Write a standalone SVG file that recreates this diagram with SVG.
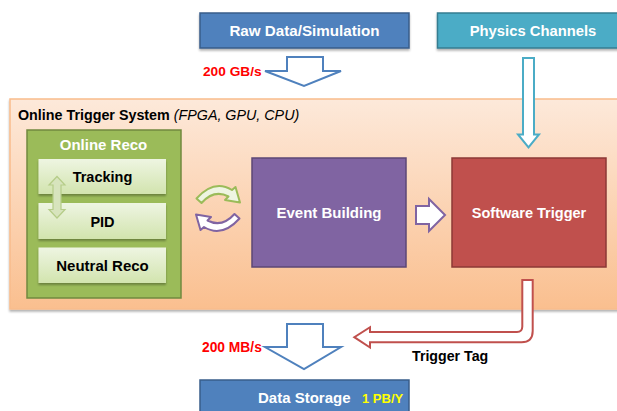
<svg xmlns="http://www.w3.org/2000/svg" width="617" height="411" viewBox="0 0 617 411">
<style>
text{font-family:"Liberation Sans",Arial,sans-serif;font-weight:bold}
.w{fill:#fff}
.k{fill:#000}
.c{text-anchor:middle}
.red{fill:#FF0000}
.arr{stroke-width:2;stroke-linejoin:miter}
</style>
<defs>
<linearGradient id="og" x1="0" y1="0" x2="0" y2="1">
<stop offset="0" stop-color="#FDE9DA"/>
<stop offset="1" stop-color="#FABF8F"/>
</linearGradient>
<linearGradient id="lg" x1="0" y1="0" x2="0" y2="1">
<stop offset="0" stop-color="#EEF5E2"/>
<stop offset="1" stop-color="#D2E4AE"/>
</linearGradient>
<filter id="sh" x="-5%" y="-5%" width="110%" height="120%">
<feDropShadow dx="0" dy="2" stdDeviation="1.2" flood-color="#000" flood-opacity="0.3"/>
</filter>
</defs>

<g id="online-trigger-system">
<rect x="10" y="99" width="620" height="210" fill="url(#og)" stroke="#F9BC8C" stroke-width="1.5" filter="url(#sh)"/>
<text x="18" y="120" font-size="14.3" class="k">Online Trigger System <tspan font-weight="normal" font-style="italic">(FPGA, GPU, CPU)</tspan></text>
</g>

<g id="raw-data">
<rect x="200" y="13" width="209" height="35" fill="#4F81BD" stroke="#385D8A" stroke-width="1.5" filter="url(#sh)"/>
<text x="304.5" y="36" font-size="15.2" class="w c">Raw Data/Simulation</text>
</g>

<g id="physics-channels">
<rect x="437.5" y="13" width="190" height="35" fill="#4BACC6" stroke="#357D91" stroke-width="1.5" filter="url(#sh)"/>
<text x="533" y="36" font-size="14.8" class="w c">Physics Channels</text>
</g>

<g id="online-reco">
<rect x="27" y="130" width="154" height="168" fill="#9BBB59" stroke="#71893F" stroke-width="1.5"/>
<text x="103.5" y="150" font-size="15" class="w c">Online Reco</text>
</g>

<g id="tracking">
<rect x="38.5" y="159" width="127.5" height="35" fill="url(#lg)" filter="url(#sh)"/>
<text x="102.5" y="182" font-size="14.5" class="k c">Tracking</text>
</g>

<g id="pid">
<rect x="38.5" y="203" width="127.5" height="36" fill="url(#lg)" filter="url(#sh)"/>
<text x="102.5" y="226.5" font-size="14.5" class="k c">PID</text>
</g>

<g id="neutral-reco">
<rect x="38.5" y="247.5" width="127.5" height="35.5" fill="url(#lg)" filter="url(#sh)"/>
<text x="102.5" y="270.5" font-size="15" class="k c">Neutral Reco</text>
</g>

<g id="event-building">
<rect x="252" y="158" width="154" height="109" fill="#8064A2" stroke="#5C4776" stroke-width="1.5"/>
<text x="329" y="218" font-size="15" class="w c">Event Building</text>
</g>

<g id="software-trigger">
<rect x="452" y="158" width="154" height="109" fill="#C0504D" stroke="#8C3836" stroke-width="1.5"/>
<text x="529" y="218" font-size="14.5" class="w c">Software Trigger</text>
</g>

<g id="data-storage">
<rect x="200" y="380" width="209" height="40" fill="#4F81BD" stroke="#385D8A" stroke-width="1.5"/>
<text x="258" y="403" font-size="15" class="w">Data Storage</text>
<text x="362" y="403" font-size="13" fill="#FFFF00">1 PB/Y</text>
</g>

<g id="connectors">
<!-- 200 GB/s down arrow -->
<path class="arr" d="M287,57 L323,57 L323,71 L341,71 L304,86 L265,71 L287,71 Z" fill="#fff" stroke="#4F81BD"/>
<text x="203" y="76" font-size="13.7" class="red">200 GB/s</text>
<!-- physics channels arrow -->
<path class="arr" d="M523,58 L534,58 L534,134.5 L539,134.5 L528.5,147.5 L518,134.5 L523,134.5 Z" fill="#fff" stroke="#4BACC6"/>
<!-- tracking/PID double arrow -->
<path d="M53,185 L49,185 L57,176.5 L65,185 L61,185 L61,209.5 L65,209.5 L57,218 L49,209.5 L53,209.5 Z" fill="#D7E4BD" stroke="#B5CC88" stroke-width="1.2"/>
<!-- circular arrows -->
<path d="M196.5,198.5 Q214,179 232,190 L235.5,187 L240,202.5 L225,200 L228.5,196.5 Q214,189 201.5,203 Z" fill="#EEF5E2" stroke="#9BBB59" stroke-width="2" stroke-linejoin="round"/>
<path d="M196.5,198.5 Q214,179 232,190 L235.5,187 L240,202.5 L225,200 L228.5,196.5 Q214,189 201.5,203 Z" fill="#fff" stroke="#8064A2" stroke-width="2" stroke-linejoin="round" transform="rotate(180 218 208.5)"/>
<!-- event building to software trigger -->
<path class="arr" d="M416,206 L429,206 L429,199 L445,215 L429,231 L429,224 L416,224 Z" fill="#fff" stroke="#8064A2"/>
<!-- trigger tag -->
<path class="arr" d="M522.3,280 L532.7,280 L532.7,331 Q532.7,342.3 521.5,342.3 L370,342.3 L370,347.5 L354.3,337.2 L370,327.2 L370,332 L517,332 Q522.3,332 522.3,326.5 Z" fill="#fff" stroke="#C0504D"/>
<text x="412" y="361" font-size="14.2" class="k">Trigger Tag</text>
<!-- 200 MB/s down arrow -->
<path class="arr" d="M287,324 L323,324 L323,347 L341,347 L304,369 L265,347 L287,347 Z" fill="#fff" stroke="#4F81BD"/>
<text x="202" y="352" font-size="13.8" class="red">200 MB/s</text>
</g>
</svg>
